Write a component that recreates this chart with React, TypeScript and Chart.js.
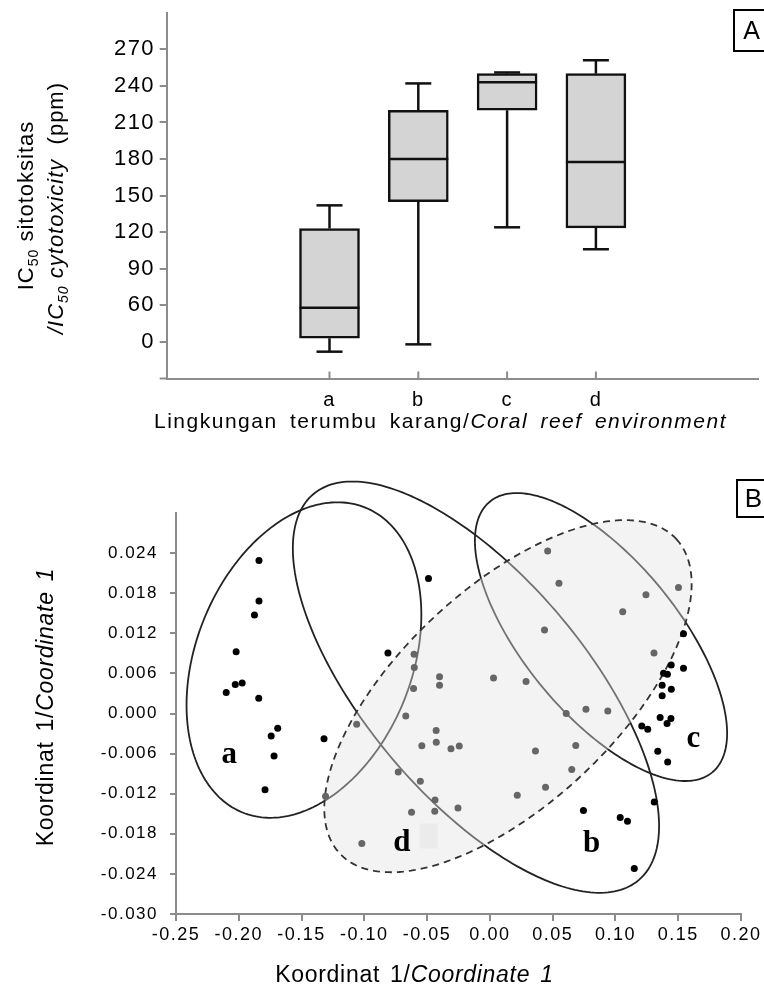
import React, { useEffect, useRef } from 'react';
import { Chart, registerables } from 'chart.js';

Chart.register(...registerables);

// ---------------- Panel A : IC50 box plot ----------------
const categories = ['a', 'b', 'c', 'd'];
const whiskerMin = [22, 28, 124, 106];
const quartile1 = [33, 145, 220, 123.5];
const medians = [58, 180, 243, 177.5];
const quartile3 = [123, 220, 250, 250];
const whiskerMax = [142, 242, 251, 261];
const yTickValuesA = [30, 60, 90, 120, 150, 180, 210, 240, 270];
const yTickLabelsA = ['0', '60', '90', '120', '150', '180', '210', '240', '270'];

// ---------------- Panel B : ordination ----------------
const groupAX = [-0.1839, -0.1839, -0.1875, -0.2021, -0.2028, -0.1973, -0.21, -0.1841, -0.169, -0.1742, -0.1719, -0.1791, -0.1321];
const groupAY = [0.02289, 0.01684, 0.01474, 0.00924, 0.00435, 0.00457, 0.00315, 0.00229, -0.0022, -0.00336, -0.00636, -0.0114, -0.00378];
const groupBX = [-0.0812, -0.0489, 0.0745, 0.1038, 0.1096, 0.1309, 0.115];
const groupBY = [0.00904, 0.02019, -0.0145, -0.01555, -0.01611, -0.01323, -0.0232];
const groupCX = [0.1542, 0.1444, 0.1542, 0.1383, 0.1414, 0.1372, 0.1445, 0.1372, 0.1356, 0.1442, 0.1411, 0.121, 0.1257, 0.1337, 0.1416];
const groupCY = [0.01194, 0.00724, 0.00676, 0.00604, 0.00589, 0.00424, 0.00364, 0.00267, -0.0006, -0.00075, -0.0015, -0.00187, -0.00235, -0.00565, -0.00726];
const groupDX = [0.046, 0.055, 0.1502, 0.1243, 0.1058, 0.0435, 0.1307, -0.0604, -0.0602, -0.0401, -0.0401, -0.0608, 0.0029, 0.0288, 0.0608, 0.0765, 0.0939, -0.067, -0.0428, -0.0427, -0.0542, -0.031, -0.0244, 0.0363, 0.0684, 0.0652, -0.073, -0.0554, 0.0443, 0.0218, -0.0437, -0.0254, -0.0439, -0.0624, -0.1061, -0.1309, -0.102];
const groupDY = [0.0243, 0.0195, 0.01887, 0.01777, 0.01524, 0.01249, 0.00904, 0.00885, 0.0069, 0.00549, 0.00421, 0.00375, 0.00532, 0.0048, 0.0, 0.00064, 0.00039, -0.00037, -0.00255, -0.0043, -0.00483, -0.00528, -0.00486, -0.00561, -0.00478, -0.00838, -0.00877, -0.01012, -0.01105, -0.01222, -0.01294, -0.01413, -0.01461, -0.01476, -0.0016, -0.0124, -0.01945];

// ellipses: centre and conjugate semi-axis vectors, in data units
const ellipseCenterX = [-0.1481, -0.0111, 0.0885, 0.0144];
const ellipseCenterY = [0.008, 0.00394, 0.01144, 0.00259];
const ellipseMajorX = [0.0489, 0.1296, 0.0886, 0.134];
const ellipseMajorY = [0.02281, -0.02887, -0.02025, 0.02353];
const ellipseMinorX = [0.0797, -0.0669, -0.0473, 0.0587];
const ellipseMinorY = [-0.00607, -0.01065, -0.00735, -0.01185];
const ellipseDashed = [false, false, false, true];

const groupLabels = ['a', 'b', 'c', 'd'];
const groupLabelX = [-0.2075, 0.0811, 0.162, -0.0702];
const groupLabelY = [-0.00745, -0.02076, -0.00501, -0.0205];

const SANS = "'Liberation Sans', Arial, sans-serif";
const SERIF = "'Liberation Serif', 'Times New Roman', serif";
const AXIS = '#8c8c8c';

type Seg = { t: string; f: string; dy?: number };

function drawRich(ctx: CanvasRenderingContext2D, segs: Seg[], cx: number, cy: number, rot: number, size: number, ls: number, ws: number) {
  ctx.save();
  ctx.translate(cx, cy);
  ctx.rotate(rot);
  (ctx as any).letterSpacing = `${ls}px`;
  (ctx as any).wordSpacing = `${ws}px`;
  ctx.textAlign = 'left';
  ctx.textBaseline = 'alphabetic';
  ctx.fillStyle = '#000';
  const widths = segs.map((s) => {
    ctx.font = s.f;
    return ctx.measureText(s.t).width;
  });
  const total = widths.reduce((a, b) => a + b, 0);
  let x = -total / 2;
  const base = size * 0.36;
  segs.forEach((s, i) => {
    ctx.font = s.f;
    ctx.fillText(s.t, x, base + (s.dy || 0));
    x += widths[i];
  });
  ctx.restore();
}

const spacingPlugin = (ls: number) => ({
  id: 'letterSpacing',
  beforeUpdate(chart: any) { chart.ctx.letterSpacing = `${ls}px`; },
  beforeLayout(chart: any) { chart.ctx.letterSpacing = `${ls}px`; },
  beforeDraw(chart: any) { chart.ctx.letterSpacing = `${ls}px`; },
});

const BOX_W = 60;
const CAP_W = 26;

const boxExtras = {
  id: 'boxExtras',
  afterDatasetsDraw(chart: any) {
    const ctx: CanvasRenderingContext2D = chart.ctx;
    const xS = chart.scales.x;
    const yS = chart.scales.y;
    ctx.save();
    ctx.strokeStyle = '#111';
    ctx.lineWidth = 2.5;
    const line = (x1: number, y1: number, x2: number, y2: number) => {
      ctx.beginPath();
      ctx.moveTo(x1, y1);
      ctx.lineTo(x2, y2);
      ctx.stroke();
    };
    categories.forEach((_, i) => {
      const px = xS.getPixelForValue(i + 1);
      const yq1 = yS.getPixelForValue(quartile1[i]);
      const yq3 = yS.getPixelForValue(quartile3[i]);
      const ymin = yS.getPixelForValue(whiskerMin[i]);
      const ymax = yS.getPixelForValue(whiskerMax[i]);
      const ymed = yS.getPixelForValue(medians[i]);
      line(px, yq3, px, ymax);
      line(px - CAP_W / 2, ymax, px + CAP_W / 2, ymax);
      line(px, yq1, px, ymin);
      line(px - CAP_W / 2, ymin, px + CAP_W / 2, ymin);
      line(px - BOX_W / 2, ymed, px + BOX_W / 2, ymed);
    });
    // inward category tick marks
    ctx.strokeStyle = AXIS;
    ctx.lineWidth = 2;
    const bottom = chart.chartArea.bottom;
    categories.forEach((_, i) => {
      const px = xS.getPixelForValue(i + 1);
      line(px, bottom, px, bottom - 7);
    });
    // x-axis stub to the left of the y-axis
    line(chart.chartArea.left - 7, bottom, chart.chartArea.left, bottom);
    ctx.restore();
  },
  afterDraw(chart: any) {
    const ctx: CanvasRenderingContext2D = chart.ctx;
    const n = (s: number) => `${s}px ${SANS}`;
    const it = (s: number) => `italic ${s}px ${SANS}`;
    drawRich(ctx, [
      { t: 'IC', f: n(22) },
      { t: '50', f: n(14), dy: 5 },
      { t: ' sitotoksitas', f: n(22) },
    ], 25, 205.5, -Math.PI / 2, 22, 1, 6);
    drawRich(ctx, [
      { t: '/IC', f: it(22) },
      { t: '50', f: it(14), dy: 5 },
      { t: ' cytotoxicity ', f: it(22) },
      { t: ' (ppm)', f: n(22) },
    ], 55, 208, -Math.PI / 2, 22, 1, 2);
    drawRich(ctx, [
      { t: 'Lingkungan terumbu karang/', f: n(21) },
      { t: 'Coral reef environment', f: it(21) },
    ], 440.5, 420.5, 0, 21, 1.5, 5);
    // panel tag
    ctx.save();
    ctx.strokeStyle = '#000';
    ctx.lineWidth = 2;
    ctx.strokeRect(734, 10, 40, 41);
    (ctx as any).letterSpacing = '0px';
    ctx.font = n(25);
    ctx.fillStyle = '#000';
    ctx.textAlign = 'center';
    ctx.textBaseline = 'alphabetic';
    ctx.fillText('A', 751.5, 39);
    ctx.restore();
  },
};

const ellipsePath = (ctx: CanvasRenderingContext2D, xS: any, yS: any, i: number) => {
  ctx.beginPath();
  const steps = 240;
  for (let k = 0; k <= steps; k++) {
    const t = (k / steps) * Math.PI * 2;
    const dx = ellipseCenterX[i] + Math.cos(t) * ellipseMajorX[i] + Math.sin(t) * ellipseMinorX[i];
    const dy = ellipseCenterY[i] + Math.cos(t) * ellipseMajorY[i] + Math.sin(t) * ellipseMinorY[i];
    const px = xS.getPixelForValue(dx);
    const py = yS.getPixelForValue(dy);
    if (k === 0) ctx.moveTo(px, py);
    else ctx.lineTo(px, py);
  }
  ctx.closePath();
};

const ordinationExtras = {
  id: 'ordinationExtras',
  beforeDatasetsDraw(chart: any) {
    const ctx: CanvasRenderingContext2D = chart.ctx;
    const xS = chart.scales.x;
    const yS = chart.scales.y;
    ctx.save();
    ellipseCenterX.forEach((_, i) => {
      if (ellipseDashed[i]) return;
      ellipsePath(ctx, xS, yS, i);
      ctx.strokeStyle = '#222';
      ctx.lineWidth = 1.8;
      ctx.setLineDash([]);
      ctx.stroke();
    });
    ellipseCenterX.forEach((_, i) => {
      if (!ellipseDashed[i]) return;
      ellipsePath(ctx, xS, yS, i);
      ctx.fillStyle = 'rgba(227,227,227,0.42)';
      ctx.fill();
      ctx.strokeStyle = '#333';
      ctx.lineWidth = 1.8;
      ctx.setLineDash([7, 5]);
      ctx.stroke();
    });
    ctx.setLineDash([]);
    // group letters
    ctx.font = `bold 31px ${SERIF}`;
    (ctx as any).letterSpacing = '0px';
    ctx.fillStyle = '#000';
    ctx.textAlign = 'center';
    ctx.textBaseline = 'alphabetic';
    groupLabels.forEach((l, i) => {
      const px = xS.getPixelForValue(groupLabelX[i]);
      const py = yS.getPixelForValue(groupLabelY[i]);
      ctx.fillText(l, px, py);
      if (l === 'd') {
        ctx.fillStyle = '#ebebeb';
        ctx.fillRect(px + 18, py - 27, 18, 25);
        ctx.fillStyle = '#000';
      }
    });
    ctx.restore();
  },
  afterDraw(chart: any) {
    const ctx: CanvasRenderingContext2D = chart.ctx;
    const n = (s: number) => `${s}px ${SANS}`;
    const it = (s: number) => `italic ${s}px ${SANS}`;
    drawRich(ctx, [
      { t: 'Koordinat 1/', f: n(23) },
      { t: 'Coordinate 1', f: it(23) },
    ], 45, 262, -Math.PI / 2, 23, 0.7, 3);
    drawRich(ctx, [
      { t: 'Koordinat 1/', f: n(23) },
      { t: 'Coordinate 1', f: it(23) },
    ], 414.5, 529, 0, 23, 0.7, 3);
    ctx.save();
    ctx.strokeStyle = '#000';
    ctx.lineWidth = 2;
    ctx.strokeRect(737, 35, 40, 37);
    (ctx as any).letterSpacing = '0px';
    ctx.font = n(26);
    ctx.fillStyle = '#000';
    ctx.textAlign = 'center';
    ctx.textBaseline = 'alphabetic';
    ctx.fillText('B', 753.5, 62);
    ctx.restore();
  },
};

const fmt = (v: number, d: number) => (Math.abs(v) < 1e-9 ? (0).toFixed(d) : v.toFixed(d));

const pointSet = (xs: number[], ys: number[], color: string) => ({
  data: xs.map((x, i) => ({ x, y: ys[i] })),
  pointRadius: 3.5,
  pointBackgroundColor: color,
  pointBorderWidth: 0,
  pointBorderColor: color,
  showLine: false,
});

export default function App() {
  const refA = useRef<HTMLCanvasElement>(null);
  const refB = useRef<HTMLCanvasElement>(null);

  useEffect(() => {
    const chartA = new Chart(refA.current as HTMLCanvasElement, {
      type: 'bar',
      data: {
        datasets: [
          {
            data: categories.map((_, i) => ({ x: i + 1, y: [quartile1[i], quartile3[i]] })) as any,
            backgroundColor: '#d4d4d4',
            borderColor: '#111',
            borderWidth: 2.5,
            borderSkipped: false,
            barThickness: BOX_W,
          } as any,
        ],
      },
      options: {
        responsive: false,
        animation: false,
        devicePixelRatio: 1,
        layout: { padding: { left: 0, right: 5.3, top: 12.7, bottom: 0 } },
        plugins: { legend: { display: false }, tooltip: { enabled: false } },
        scales: {
          x: {
            type: 'linear',
            min: 0,
            max: 5,
            afterBuildTicks: (s: any) => { s.ticks = categories.map((_, i) => ({ value: i + 1 })); },
            afterFit: (s: any) => { s.height = 66.5; s.paddingLeft = 0; s.paddingRight = 0; },
            ticks: {
              callback: (v: any) => categories[Number(v) - 1] ?? '',
              font: { family: SANS, size: 20 },
              color: '#000',
              padding: 10,
              maxRotation: 0,
              autoSkip: false,
            },
            grid: { display: true, drawOnChartArea: false, drawTicks: false },
            border: { color: AXIS, width: 2 },
          },
          y: {
            type: 'linear',
            min: 0,
            max: 300,
            afterBuildTicks: (s: any) => { s.ticks = yTickValuesA.map((v) => ({ value: v })); },
            afterFit: (s: any) => { s.width = 166.7; s.paddingTop = 0; s.paddingBottom = 0; },
            ticks: {
              callback: (v: any) => {
                const i = yTickValuesA.indexOf(Number(v));
                return i >= 0 ? yTickLabelsA[i] : '';
              },
              font: { family: SANS, size: 22 },
              color: '#000',
              padding: 5,
              autoSkip: false,
            },
            grid: { drawOnChartArea: false, drawTicks: true, tickLength: 7, color: AXIS, lineWidth: 2 },
            border: { color: AXIS, width: 2 },
          },
        },
      } as any,
      plugins: [spacingPlugin(1.3), boxExtras],
    });

    const chartB = new Chart(refB.current as HTMLCanvasElement, {
      type: 'scatter',
      data: {
        datasets: [
          pointSet(groupDX, groupDY, '#666'),
          pointSet(groupAX, groupAY, '#000'),
          pointSet(groupBX, groupBY, '#000'),
          pointSet(groupCX, groupCY, '#000'),
        ] as any,
      },
      options: {
        responsive: false,
        animation: false,
        devicePixelRatio: 1,
        layout: { padding: { left: 0, right: 23, top: 68, bottom: 0 } },
        plugins: { legend: { display: false }, tooltip: { enabled: false } },
        scales: {
          x: {
            type: 'linear',
            min: -0.25,
            max: 0.2,
            afterFit: (s: any) => { s.height = 74; s.paddingLeft = 0; s.paddingRight = 0; },
            ticks: {
              stepSize: 0.05,
              callback: (v: any) => fmt(Number(v), 2),
              font: { family: SANS, size: 18 },
              color: '#000',
              padding: 3,
              maxRotation: 0,
              autoSkip: false,
            },
            grid: { drawOnChartArea: false, drawTicks: true, tickLength: 7, color: AXIS, lineWidth: 2 },
            border: { color: AXIS, width: 2 },
          },
          y: {
            type: 'linear',
            min: -0.03,
            max: 0.03,
            afterBuildTicks: (s: any) => { s.ticks = s.ticks.filter((t: any) => t.value < 0.027); },
            afterFit: (s: any) => { s.width = 176; s.paddingTop = 0; s.paddingBottom = 0; },
            ticks: {
              stepSize: 0.006,
              callback: (v: any) => fmt(Number(v), 3),
              font: { family: SANS, size: 17 },
              color: '#000',
              padding: 12,
              autoSkip: false,
            },
            grid: { drawOnChartArea: false, drawTicks: true, tickLength: 6, color: AXIS, lineWidth: 2 },
            border: { color: AXIS, width: 2 },
          },
        },
      } as any,
      plugins: [spacingPlugin(1.5), ordinationExtras],
    });

    return () => {
      chartA.destroy();
      chartB.destroy();
    };
  }, []);

  return (
    <div style={{ position: 'fixed', left: 0, top: 0, width: 764, height: 988, background: '#fff', overflow: 'hidden' }}>
      <canvas ref={refA} width={764} height={445} style={{ position: 'absolute', left: 0, top: 0, width: 764, height: 445 }} />
      <canvas ref={refB} width={764} height={543} style={{ position: 'absolute', left: 0, top: 445, width: 764, height: 543 }} />
    </div>
  );
}
